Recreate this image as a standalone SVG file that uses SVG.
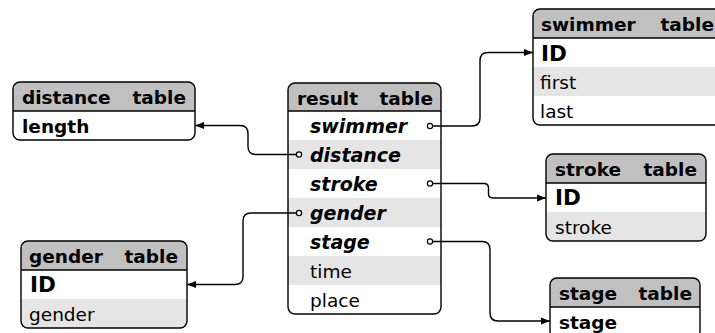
<svg xmlns="http://www.w3.org/2000/svg" width="715" height="333" viewBox="0 0 715 333">
<style>
text{font-family:"DejaVu Sans",sans-serif;font-size:18.5px;fill:#000}
.h{font-weight:bold}
.k{font-weight:bold;font-style:italic;font-size:19px}
.id{font-weight:bold;font-size:21.5px}
.end{text-anchor:end}
.hd{fill:#c0c0c0}
.g{fill:#e5e5e5}
.bg{fill:#fff}
.bd{fill:none;stroke:#000;stroke-width:1.4}
.ln{stroke:#000;stroke-width:1.4}
.c{fill:none;stroke:#000;stroke-width:1.4}
.dot{fill:#fff;stroke:#000;stroke-width:1.2}
</style>
<defs>
<marker id="ar" markerUnits="userSpaceOnUse" markerWidth="10" markerHeight="8" refX="9" refY="4" orient="auto">
<path d="M0,0.5 L9,4 L0,7.5 Z" fill="#000"/>
</marker>
<clipPath id="cr"><rect x="288" y="83" width="153" height="231" rx="7"/></clipPath>
<clipPath id="cs"><rect x="533" y="9" width="190" height="116" rx="7"/></clipPath>
<clipPath id="cd"><rect x="13" y="82" width="182" height="58" rx="7"/></clipPath>
<clipPath id="cg"><rect x="21" y="241" width="166" height="87" rx="7"/></clipPath>
<clipPath id="ck"><rect x="546" y="154" width="160" height="87" rx="7"/></clipPath>
<clipPath id="ct"><rect x="550" y="278" width="150" height="60" rx="7"/></clipPath>
</defs>

<g id="result">
<g clip-path="url(#cr)">
<rect class="bg" x="288" y="83" width="153" height="231"/>
<rect class="hd" x="288" y="83" width="153" height="28"/>
<rect class="g" x="288" y="140" width="153" height="29"/>
<rect class="g" x="288" y="198" width="153" height="29"/>
<rect class="g" x="288" y="256" width="153" height="29"/>
</g>
<line class="ln" x1="288" y1="111" x2="441" y2="111"/>
<rect class="bd" x="288" y="83" width="153" height="231" rx="7"/>
<text class="h" x="297" y="104.5">result</text>
<text class="h end" x="433" y="104.5">table</text>
<text class="k" x="310" y="133">swimmer</text>
<text class="k" x="310" y="162">distance</text>
<text class="k" x="310" y="191">stroke</text>
<text class="k" x="310" y="220">gender</text>
<text class="k" x="310" y="249">stage</text>
<text x="310" y="278">time</text>
<text x="310" y="307">place</text>
</g>

<g id="swimmer">
<g clip-path="url(#cs)">
<rect class="bg" x="533" y="9" width="190" height="116"/>
<rect class="hd" x="533" y="9" width="190" height="29"/>
<rect class="g" x="533" y="67" width="190" height="29"/>
</g>
<line class="ln" x1="533" y1="38" x2="723" y2="38"/>
<rect class="bd" x="533" y="9" width="190" height="116" rx="7"/>
<text class="h" x="541" y="31">swimmer</text>
<text class="h end" x="714" y="31">table</text>
<text class="id" x="541" y="61">ID</text>
<text x="540" y="89">first</text>
<text x="540" y="118">last</text>
</g>

<g id="distance">
<g clip-path="url(#cd)">
<rect class="bg" x="13" y="82" width="182" height="58"/>
<rect class="hd" x="13" y="82" width="182" height="29"/>
</g>
<line class="ln" x1="13" y1="111" x2="195" y2="111"/>
<rect class="bd" x="13" y="82" width="182" height="58" rx="7"/>
<text class="h" x="22" y="104">distance</text>
<text class="h end" x="186" y="104">table</text>
<text class="h" x="22" y="133">length</text>
</g>

<g id="gender">
<g clip-path="url(#cg)">
<rect class="bg" x="21" y="241" width="166" height="87"/>
<rect class="hd" x="21" y="241" width="166" height="29"/>
<rect class="g" x="21" y="299" width="166" height="29"/>
</g>
<line class="ln" x1="21" y1="270" x2="187" y2="270"/>
<rect class="bd" x="21" y="241" width="166" height="87" rx="7"/>
<text class="h" x="29" y="263">gender</text>
<text class="h end" x="178" y="263">table</text>
<text class="id" x="30" y="292">ID</text>
<text x="29" y="321">gender</text>
</g>

<g id="stroke">
<g clip-path="url(#ck)">
<rect class="bg" x="546" y="154" width="160" height="87"/>
<rect class="hd" x="546" y="154" width="160" height="29"/>
<rect class="g" x="546" y="212" width="160" height="29"/>
</g>
<line class="ln" x1="546" y1="183" x2="706" y2="183"/>
<rect class="bd" x="546" y="154" width="160" height="87" rx="7"/>
<text class="h" x="555" y="176">stroke</text>
<text class="h end" x="697" y="176">table</text>
<text class="id" x="555" y="205">ID</text>
<text x="555" y="234">stroke</text>
</g>

<g id="stage">
<g clip-path="url(#ct)">
<rect class="bg" x="550" y="278" width="150" height="60"/>
<rect class="hd" x="550" y="278" width="150" height="29"/>
</g>
<line class="ln" x1="550" y1="307" x2="700" y2="307"/>
<rect class="bd" x="550" y="278" width="150" height="60" rx="7"/>
<text class="h" x="559" y="300">stage</text>
<text class="h end" x="692" y="300">table</text>
<text class="h" x="559" y="329">stage</text>
</g>

<g id="connectors">
<path class="c" marker-end="url(#ar)" d="M432.5,126 H472 Q480,126 480,118 V60.5 Q480,52.5 488,52.5 H533"/>
<path class="c" marker-end="url(#ar)" d="M296.5,154.5 H256 Q248,154.5 248,146.5 V133.5 Q248,125.5 240,125.5 H195"/>
<path class="c" marker-end="url(#ar)" d="M432.5,183.5 H484 Q488.5,183.5 488.5,188 V193.5 Q488.5,198 493,198 H546"/>
<path class="c" marker-end="url(#ar)" d="M296.5,213 H251 Q243,213 243,221 V276.5 Q243,284.5 235,284.5 H187"/>
<path class="c" marker-end="url(#ar)" d="M432.5,241.5 H482 Q490,241.5 490,249.5 V313 Q490,321 498,321 H550"/>
<circle class="dot" cx="430" cy="126" r="2.6"/>
<circle class="dot" cx="299" cy="154.5" r="2.6"/>
<circle class="dot" cx="430" cy="183.5" r="2.6"/>
<circle class="dot" cx="299" cy="213" r="2.6"/>
<circle class="dot" cx="430" cy="241.5" r="2.6"/>
</g>
</svg>
